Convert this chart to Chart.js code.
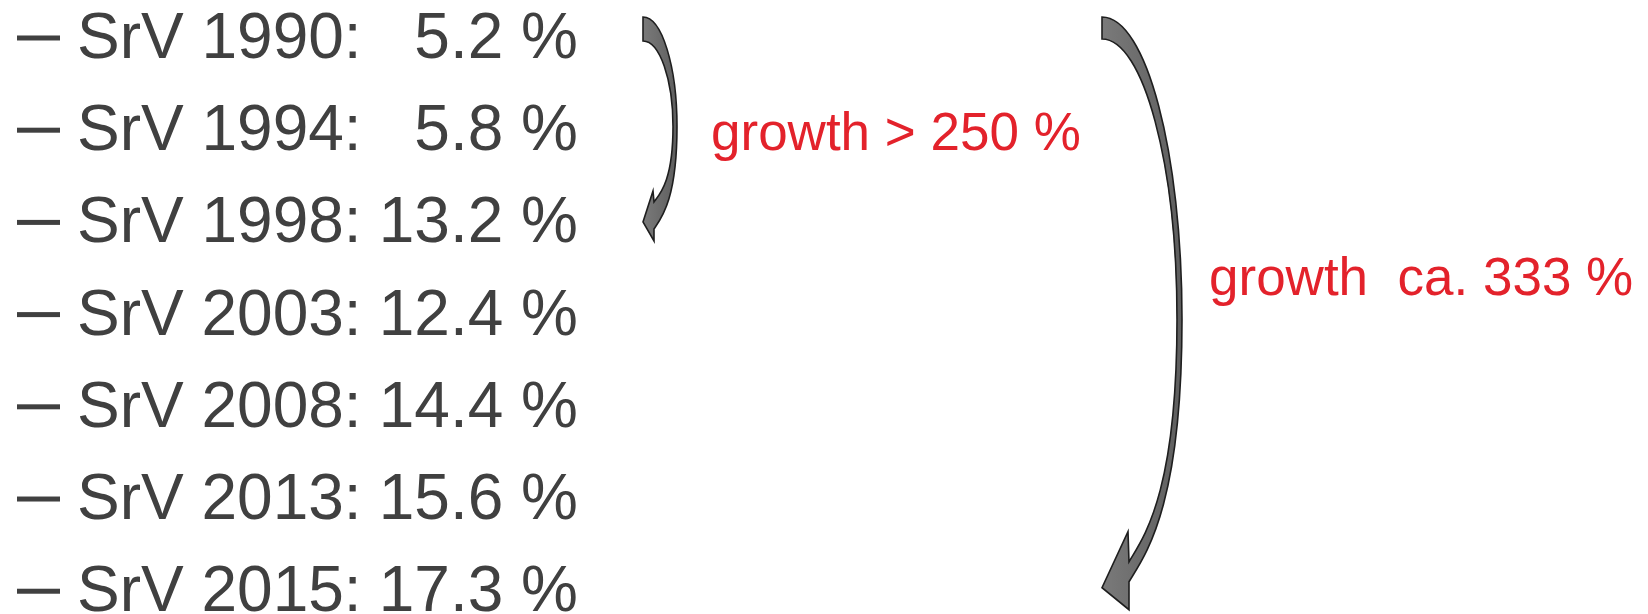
<!DOCTYPE html>
<html>
<head>
<meta charset="utf-8">
<script src="https://cdn.jsdelivr.net/npm/chart.js@4.4.1/dist/chart.umd.min.js"></script>
<style>
html, body { margin: 0; padding: 0; background: #fff; overflow: hidden; }
#wrap { width: 1648px; height: 614px; }
</style>
</head>
<body>
<div id="wrap"><canvas id="c" width="1648" height="614"></canvas></div>
<script>
// share of SrV per year, in %
const years = ['1990', '1994', '1998', '2003', '2008', '2013', '2015'];
const shares = [5.2, 5.8, 13.2, 12.4, 14.4, 15.6, 17.3];

// growth notes: text, first row, last row
const growthText = ['growth > 250 %', 'growth  ca. 333 %'];
const growthFrom = [0, 0];
const growthTo = [2, 6];

const FONT = '"Liberation Sans", Arial, Helvetica, sans-serif';
const GREY = '#404040';
const RED = '#e3222b';

// looks of the two curved arrows and where their notes sit (px / row units)
const arrowStyle = [
  { x: 643, w: 24, bulge: 34, t: 4, mid: 0.49, hx: 11, b1: 50, b2: 19, n1: 39, r: 12, textX: 711, textRow: 1 },
  { x: 1102, w: 22, bulge: 80, t: 5, mid: 0.51, hx: 27, b1: 78, b2: 22, n1: 48, r: 28, textX: 1209, textRow: 2.57 }
];

function drawArrow(ctx, s, yTop, yTip) {
  const k = 0.5523;
  const x0 = s.x, B = s.bulge;
  const yc = yTop + (yTip - yTop) * s.mid;
  const xh = x0 + s.hx;
  const yR = yTip - s.r, yN = yTip - s.n1;
  const xi = x0 + B - s.t;
  ctx.beginPath();
  ctx.moveTo(x0, yTop);
  ctx.bezierCurveTo(x0 + k * B, yTop, x0 + B, yc - k * (yc - yTop), x0 + B, yc);
  ctx.bezierCurveTo(x0 + B, yc + 0.72 * (yR - yc), xh + 0.3 * (x0 + B - xh), yR - 0.1 * (yR - yc), xh, yR);
  ctx.lineTo(xh, yTip);
  ctx.lineTo(x0, yTip - s.b2);
  ctx.lineTo(xh - 1, yTip - s.b1);
  ctx.lineTo(xh, yN);
  ctx.bezierCurveTo(xh + 0.3 * (xi - xh), yN - 0.1 * (yN - yc), xi, yc + 0.72 * (yN - yc), xi, yc);
  ctx.bezierCurveTo(xi, yc - k * (yc - yTop - s.w), x0 + k * (xi - x0), yTop + s.w, x0, yTop + s.w);
  ctx.closePath();
  const g = ctx.createLinearGradient(x0, 0, x0 + B, 0);
  g.addColorStop(0, '#7a7a7a');
  g.addColorStop(1, '#5e5e5e');
  ctx.fillStyle = g;
  ctx.fill();
  ctx.lineWidth = 1.6;
  ctx.lineJoin = 'miter';
  ctx.strokeStyle = '#1e1e1e';
  ctx.stroke();
}

const listPlugin = {
  id: 'srvList',
  afterDatasetsDraw(chart) {
    const ctx = chart.ctx;
    const yScale = chart.scales.y;
    const pts = chart.getDatasetMeta(0).data;
    ctx.save();
    ctx.textBaseline = 'alphabetic';
    ctx.font = '64px ' + FONT;
    ctx.fillStyle = GREY;
    pts.forEach((el, i) => {
      const y = el.y;
      ctx.fillRect(17, y - 2.5, 43, 5);
      ctx.textAlign = 'left';
      ctx.fillText('SrV ' + years[i] + ':', 77, y + 20);
      ctx.textAlign = 'right';
      ctx.fillText(shares[i].toFixed(1) + ' %', 578, y + 20);
    });

    arrowStyle.forEach((s, j) => {
      const yTop = yScale.getPixelForValue(growthFrom[j]) - 21;
      const yTip = yScale.getPixelForValue(growthTo[j]) + 18.5;
      drawArrow(ctx, s, yTop, yTip);
      ctx.font = '53px ' + FONT;
      ctx.fillStyle = RED;
      ctx.textAlign = 'left';
      ctx.fillText(growthText[j], s.textX, yScale.getPixelForValue(s.textRow) + 20);
    });
    ctx.restore();
  }
};

new Chart(document.getElementById('c'), {
  type: 'scatter',
  data: {
    datasets: [{
      label: 'SrV',
      data: shares.map((v, i) => ({ x: v, y: i })),
      pointRadius: 0,
      showLine: false
    }]
  },
  options: {
    responsive: false,
    animation: false,
    layout: { padding: 0 },
    plugins: { legend: { display: false }, tooltip: { enabled: false } },
    scales: {
      x: { display: false, min: 0, max: 20 },
      y: { display: false, min: -0.412, max: 6.247, reverse: true }
    }
  },
  plugins: [listPlugin]
});
</script>
</body>
</html>
